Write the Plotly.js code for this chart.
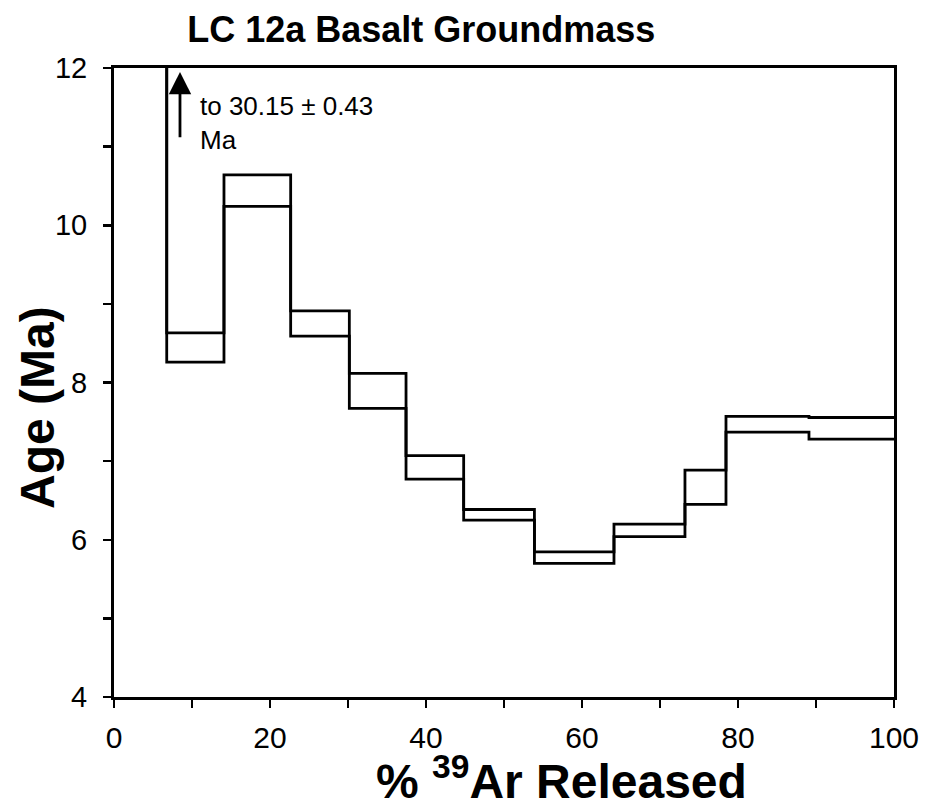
<!DOCTYPE html>
<html>
<head>
<meta charset="utf-8">
<script src="https://cdn.plot.ly/plotly-3.0.1.min.js"></script>
<style>html,body{margin:0;padding:0;background:#fff;}#chart{width:929px;height:809px;}</style>
</head>
<body>
<div id="chart"></div>
<script>
// Step boundaries (% 39Ar released, cumulative)
const stepEdges = [0, 6.76, 14.1, 22.65, 30.17, 37.44, 44.83, 53.9, 64.1, 73.2, 78.46, 89.1, 100];
// Upper and lower bounds (age ± 1σ, Ma) of each step; first step is off scale (30.15 ± 0.43)
const ageTop    = [30.58, 8.63, 10.64, 8.91, 8.115, 7.07, 6.385, 5.846, 6.20, 6.885, 7.57, 7.555];
const ageBottom = [29.72, 8.26, 10.24, 8.59, 7.67, 6.77, 6.25, 5.70, 6.04, 6.45, 7.37, 7.28];

const yMajorTicks = [4, 6, 8, 10, 12];
const yMinorTicks = [5, 7, 9, 11];
const xMajorTicks = [0, 20, 40, 60, 80, 100];
const xMinorTicks = [10, 30, 50, 70, 90];

function stepLine(vals) {
  const xs = [], ys = [];
  for (let i = 0; i < vals.length; i++) { xs.push(stepEdges[i]); ys.push(vals[i]); }
  xs.push(stepEdges[stepEdges.length - 1]); ys.push(vals[vals.length - 1]);
  return {x: xs, y: ys};
}
const topL = stepLine(ageTop), botL = stepLine(ageBottom);
const lineStyle = {color: '#000', width: 2.8, shape: 'hv'};
const traces = [
  {type: 'scatter', mode: 'lines', x: topL.x, y: topL.y, line: lineStyle, hoverinfo: 'skip', showlegend: false},
  {type: 'scatter', mode: 'lines', x: botL.x, y: botL.y, line: lineStyle, hoverinfo: 'skip', showlegend: false}
];

const FONT = 'Arial, "Liberation Sans", sans-serif';
const minorStyle = {ticks: 'outside', ticklen: 8, tickwidth: 2.5, tickcolor: '#000', showgrid: false};
const layout = {
  width: 929, height: 809,
  margin: {l: 114, r: 35, t: 68, b: 112},
  paper_bgcolor: '#fff', plot_bgcolor: '#fff',
  showlegend: false,
  title: {
    text: '<b>LC 12a Basalt Groundmass</b>',
    font: {family: FONT, size: 36, color: '#000'},
    x: 0.394, xref: 'paper', xanchor: 'center',
    y: 1 - 29 / 809, yref: 'container', yanchor: 'middle'
  },
  xaxis: {
    range: [0, 100], tickmode: 'array', tickvals: xMajorTicks,
    ticks: 'outside', ticklen: 8, tickwidth: 2.5, tickcolor: '#000',
    minor: Object.assign({tickmode: 'array', tickvals: xMinorTicks}, minorStyle),
    showline: true, linewidth: 3, linecolor: '#000', mirror: true,
    showgrid: false, zeroline: false, ticklabelstandoff: 4,
    tickfont: {family: FONT, size: 30, color: '#000'}
  },
  yaxis: {
    range: [4, 12], tickmode: 'array', tickvals: yMajorTicks,
    ticks: 'outside', ticklen: 8, tickwidth: 2.5, tickcolor: '#000',
    minor: Object.assign({tickmode: 'array', tickvals: yMinorTicks}, minorStyle),
    showline: true, linewidth: 3, linecolor: '#000', mirror: true,
    showgrid: false, zeroline: false, ticklabelstandoff: 10,
    tickfont: {family: FONT, size: 29, color: '#000'}
  },
  annotations: [
    {
      xref: 'x', yref: 'y', axref: 'x', ayref: 'y',
      x: 8.46, y: 11.95, ax: 8.46, ay: 11.1,
      showarrow: true, arrowhead: 2, arrowsize: 1.6, arrowwidth: 2.8, arrowcolor: '#000', text: ''
    },
    {
      xref: 'x', yref: 'y', x: 10.8, y: 11.3, xanchor: 'left', yanchor: 'middle', align: 'left',
      showarrow: false, text: 'to 30.15 ± 0.43<br>Ma',
      font: {family: FONT, size: 26, color: '#000'}
    },
    {
      xref: 'paper', yref: 'paper', x: (37 - 114) / 780, y: (697 - 408) / 629,
      xanchor: 'center', yanchor: 'middle', showarrow: false, textangle: -90,
      text: '<b>Age (Ma)</b>',
      font: {family: FONT, size: 48, color: '#000'}
    },
    {
      xref: 'paper', yref: 'paper', x: (561 - 114) / 780, y: -(778 - 697) / 629,
      xanchor: 'center', yanchor: 'middle', showarrow: false,
      text: '<b>% <sup>39</sup>Ar Released</b>',
      font: {family: FONT, size: 48, color: '#000'}
    }
  ]
};
Plotly.newPlot('chart', traces, layout, {staticPlot: true, displayModeBar: false});
</script>
</body>
</html>
